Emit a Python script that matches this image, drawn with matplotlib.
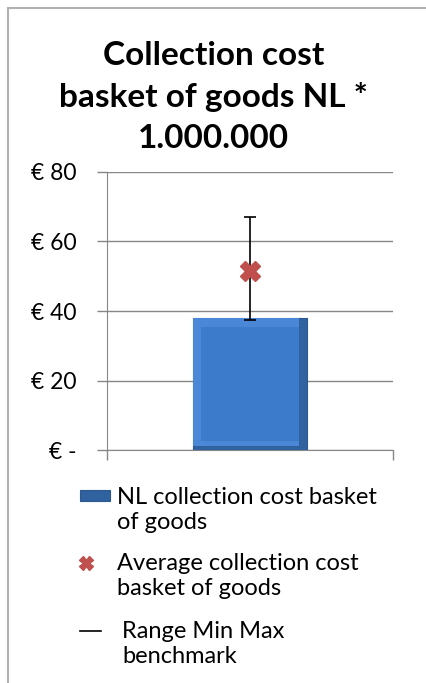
import matplotlib.pyplot as plt
from matplotlib.patches import Rectangle
from matplotlib.lines import Line2D

plt.rcParams['font.family'] = ['Lato', 'DejaVu Sans']

categories = ['NL']
nl_cost = [38]
avg_cost = [51.5]
range_min = [37.5]
range_max = [67]
yticks = [0, 20, 40, 60, 80]
ytick_labels = ['€ -', '€ 20', '€ 40', '€ 60', '€ 80']
legend_lines = [['NL collection cost basket', 'of goods'],
                ['Average collection cost', 'basket of goods'],
                ['Range Min Max', 'benchmark']]

fig = plt.figure(figsize=(4.27, 6.83), dpi=100)
ax = fig.add_axes([0.2506, 0.3411, 0.670, 0.4071])

# outer chart frame
fig.patches.append(Rectangle((8 / 427, -0.05), 1.1, 1 - 8 / 683 + 0.05,
                             transform=fig.transFigure, fill=False,
                             edgecolor='#b0b0b0', linewidth=1.5))

x = list(range(len(categories)))
w = 0.4
bev_x, bev_y = 0.03, 2.6
# bar with a soft bevel look: dark base, light top/left, mid-blue face
bars = ax.bar(x, nl_cost, width=w, color='#2f629f', edgecolor='#2a5890',
              linewidth=0.8, zorder=3)
ax.bar([i - w / 2 for i in x], [v - bev_y / 2 for v in nl_cost],
       bottom=bev_y / 2, width=w - bev_x, align='edge', color='#4a87d6',
       linewidth=0, zorder=3)
ax.bar([i - w / 2 + bev_x for i in x], [v - 2 * bev_y for v in nl_cost],
       bottom=bev_y, width=w - 2 * bev_x, align='edge', color='#3c7acb',
       linewidth=0, zorder=3)

err_lo = [a - lo for a, lo in zip(avg_cost, range_min)]
err_hi = [hi - a for a, hi in zip(avg_cost, range_max)]
ax.errorbar(x, avg_cost, yerr=[err_lo, err_hi], fmt='none', ecolor='black',
            elinewidth=1.2, capsize=4, capthick=1.2, zorder=4)
ax.plot(x, avg_cost, linestyle='none', marker='X', markersize=14,
        color='#c0504d', markeredgecolor='#c0504d', zorder=5)

ax.set_xlim(-0.5, 0.5)
ax.set_ylim(0, 80)
ax.set_yticks(yticks)
ax.set_yticklabels(ytick_labels, fontsize=16.5)
ax.set_xticks([-0.5, 0.5])
ax.set_xticklabels([])
ax.tick_params(axis='y', length=7, color='#868686', width=1, pad=15)
ax.tick_params(axis='x', length=7, color='#868686', width=1)
ax.grid(axis='y', color='#868686', linewidth=1, zorder=0)
for s in ['top', 'right']:
    ax.spines[s].set_visible(False)
ax.spines['left'].set_color('#868686')
ax.spines['bottom'].set_color('#868686')

fig.text(0.5, 1 - 97 / 683, 'Collection cost\nbasket of goods NL *\n1.000.000',
         ha='center', va='center', fontsize=24, fontweight='bold',
         linespacing=1.5)

blank = Line2D([], [], linestyle='none')
handles = [bars,
           Line2D([], [], linestyle='none', marker='X', markersize=10,
                  color='#c0504d'),
           Line2D([], [], color='black', linewidth=1.2)]
tops = [487, 553, 621]
hlens = [1.27, 0.5, 0.9]
hpads = [0.3, 1.06, 0.9]
for h, lines, top, hl, hp in zip(handles, legend_lines, tops, hlens, hpads):
    fig.legend([h, blank], lines, loc='upper left',
               bbox_to_anchor=(80 / 427, 1 - top / 683), frameon=False,
               fontsize=17, handlelength=hl, handletextpad=hp,
               handleheight=0.34, labelspacing=0.15, borderaxespad=0,
               borderpad=0)

fig.savefig('out.png', dpi=100)
